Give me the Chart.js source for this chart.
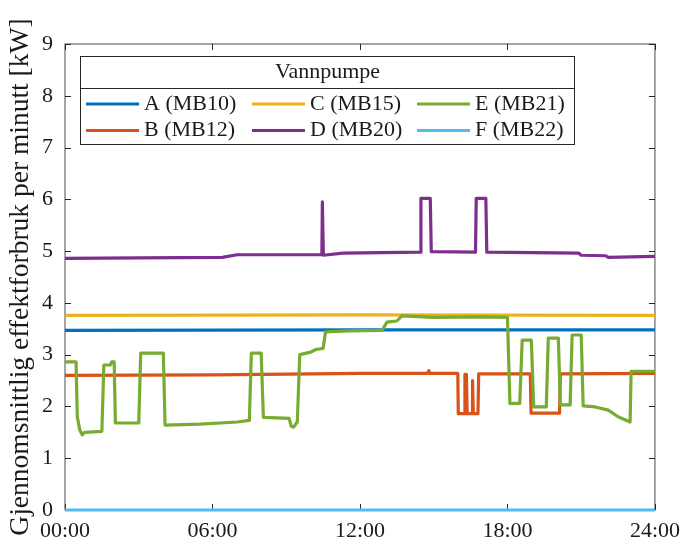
<!DOCTYPE html>
<html>
<head>
<meta charset="utf-8">
<script src="https://cdn.jsdelivr.net/npm/chart.js@4.4.1/dist/chart.umd.min.js"></script>
<style>
html,body{margin:0;padding:0;background:#fff;}
#c{display:block;}
</style>
</head>
<body>
<canvas id="c" width="688" height="544"></canvas>
<script>
// ---------- data (hours of day, kW) ----------
const hourTicks = [0, 6, 12, 18, 24];
const hourTickLabels = ['00:00', '06:00', '12:00', '18:00', '24:00'];
const legendTitle = 'Vannpumpe';
const yTitle = 'Gjennomsnittlig effektforbruk per minutt [kW]';
const seriesLabels = ['A (MB10)', 'B (MB12)', 'C (MB15)', 'D (MB20)', 'E (MB21)', 'F (MB22)'];
const seriesColors = ['#0072BD', '#D95319', '#EDB120', '#7E2F8E', '#77AC30', '#4DBEEE'];

const aTimes  = [0, 12, 24];
const aValues = [3.47, 3.48, 3.48];

const bTimes  = [0, 6, 12, 14.75, 14.8, 14.85, 15.98, 16.0, 16.24, 16.27, 16.33, 16.36, 16.56, 16.58, 16.61, 16.8, 16.83, 18.93, 18.96, 20.12, 20.15, 24];
const bValues = [2.6, 2.61, 2.64, 2.64, 2.69, 2.64, 2.64, 1.86, 1.86, 2.62, 2.62, 1.86, 1.86, 2.5, 1.86, 1.86, 2.63, 2.63, 1.87, 1.87, 2.63, 2.64];

const cTimes  = [0, 12, 24];
const cValues = [3.76, 3.77, 3.76];

const dTimes  = [0, 3, 6.4, 7.0, 10.45, 10.47, 10.49, 10.51, 11.3, 14.45, 14.48, 14.86, 14.9, 16.7, 16.73, 17.12, 17.16, 20.9, 21.0, 22.0, 22.1, 24];
const dValues = [4.86, 4.87, 4.88, 4.93, 4.93, 5.95, 5.95, 4.92, 4.96, 4.98, 6.02, 6.02, 4.99, 4.98, 6.02, 6.02, 4.98, 4.96, 4.92, 4.91, 4.88, 4.9];

const eTimes  = [0, 0.45, 0.5, 0.6, 0.7, 0.8, 1.5, 1.58, 1.85, 1.9, 2.0, 2.05, 3.0, 3.08, 4.0, 4.07, 5.5, 7.0, 7.5, 7.58, 7.98, 8.07, 9.12, 9.2, 9.3, 9.45, 9.55, 10.0, 10.2, 10.5, 10.6, 11.5, 12.9, 13.1, 13.5, 13.7, 15.0, 17.0, 18.0, 18.1, 18.5, 18.6, 18.97, 19.07, 19.58, 19.66, 20.07, 20.15, 20.55, 20.63, 21.0, 21.08, 21.57, 22.1, 22.5, 22.99, 23.03, 24];
const eValues = [2.86, 2.86, 1.8, 1.55, 1.45, 1.5, 1.52, 2.8, 2.8, 2.86, 2.86, 1.68, 1.68, 3.03, 3.03, 1.64, 1.66, 1.7, 1.73, 3.03, 3.03, 1.79, 1.77, 1.62, 1.6, 1.7, 3.0, 3.05, 3.1, 3.12, 3.44, 3.46, 3.47, 3.63, 3.65, 3.75, 3.72, 3.73, 3.72, 2.06, 2.06, 3.28, 3.28, 1.99, 1.99, 3.32, 3.32, 2.03, 2.03, 3.38, 3.38, 2.01, 1.99, 1.93, 1.8, 1.7, 2.68, 2.68];

const fTimes  = [0, 24];
const fValues = [0, 0];

const yTicks = [0, 1, 2, 3, 4, 5, 6, 7, 8, 9];

// ---------- build ----------
function toPoints(times, values) {
  return times.map((t, i) => ({ x: t, y: values[i] }));
}
const allTimes = [aTimes, bTimes, cTimes, dTimes, eTimes, fTimes];
const allValues = [aValues, bValues, cValues, dValues, eValues, fValues];

const datasets = seriesLabels.map((lab, i) => ({
  label: lab,
  data: toPoints(allTimes[i], allValues[i]),
  borderColor: seriesColors[i],
  backgroundColor: seriesColors[i],
  borderWidth: 3.2,
  pointRadius: 0,
  tension: 0,
  fill: false,
  clip: 4,
  borderJoinStyle: 'round',
  order: 6 - i
}));

const FONT = '"Liberation Serif", "Times New Roman", serif';
const TEXT = '#1a1a1a';
const AXIS = '#6a6a6a';

const boxPlugin = {
  id: 'matlabBox',
  beforeDatasetsDraw(chart) {
    const { ctx, chartArea: a, scales } = chart;
    ctx.save();
    ctx.strokeStyle = AXIS;
    ctx.lineWidth = 1.2;
    ctx.strokeRect(a.left, a.top, a.right - a.left, a.bottom - a.top);
    ctx.strokeStyle = '#262626';
    ctx.lineWidth = 1;
    const tl = 6;
    ctx.beginPath();
    scales.x.ticks.forEach(t => {
      const px = Math.round(scales.x.getPixelForValue(t.value)) + 0.5;
      ctx.moveTo(px, a.bottom); ctx.lineTo(px, a.bottom - tl);
      ctx.moveTo(px, a.top); ctx.lineTo(px, a.top + tl);
    });
    scales.y.ticks.forEach(t => {
      const py = Math.round(scales.y.getPixelForValue(t.value)) + 0.5;
      ctx.moveTo(a.left, py); ctx.lineTo(a.left + tl, py);
      ctx.moveTo(a.right, py); ctx.lineTo(a.right - tl, py);
    });
    ctx.stroke();
    ctx.restore();
  }
};

const legendPlugin = {
  id: 'vannLegend',
  afterDraw(chart) {
    const ctx = chart.ctx;
    const x0 = 80.5, y0 = 56.5, x1 = 574.5, y1 = 144.5, sep = 88.5;
    ctx.save();
    ctx.fillStyle = '#fff';
    ctx.fillRect(x0, y0, x1 - x0, y1 - y0);
    ctx.strokeStyle = '#262626';
    ctx.lineWidth = 1;
    ctx.strokeRect(x0, y0, x1 - x0, y1 - y0);
    ctx.beginPath(); ctx.moveTo(x0, sep); ctx.lineTo(x1, sep); ctx.stroke();
    ctx.fillStyle = TEXT;
    ctx.font = '22px ' + FONT;
    ctx.textAlign = 'center';
    ctx.textBaseline = 'middle';
    ctx.fillText(legendTitle, (x0 + x1) / 2, 72);
    const colX = [86, 252, 417];
    const rowY = [104, 130.5];
    ctx.textAlign = 'left';
    chart.data.datasets.forEach((ds, i) => {
      const col = Math.floor(i / 2), row = i % 2;
      const lx = colX[col], ly = rowY[row];
      ctx.strokeStyle = ds.borderColor;
      ctx.lineWidth = 3.2;
      ctx.beginPath(); ctx.moveTo(lx, ly); ctx.lineTo(lx + 53, ly); ctx.stroke();
      ctx.fillStyle = TEXT;
      ctx.fillText(ds.label, lx + 58, ly);
    });
    ctx.restore();
  }
};

new Chart(document.getElementById('c'), {
  type: 'line',
  data: { datasets },
  options: {
    responsive: false,
    animation: false,
    devicePixelRatio: 1,
    layout: { padding: { top: 44, right: 31, left: 0, bottom: 0 } },
    plugins: { legend: { display: false }, tooltip: { enabled: false } },
    scales: {
      x: {
        type: 'linear', min: 0, max: 24,
        afterBuildTicks(s) { s.ticks = hourTicks.map(v => ({ value: v })); },
        afterFit(s) { s.height = 34; },
        grid: { display: false, drawTicks: false },
        border: { display: false },
        ticks: {
          padding: 8, color: TEXT, maxRotation: 0, autoSkip: false,
          font: { family: FONT, size: 22 },
          callback: (v) => hourTickLabels[hourTicks.indexOf(v)]
        }
      },
      y: {
        type: 'linear', min: 0, max: 9,
        afterBuildTicks(s) { s.ticks = yTicks.map(v => ({ value: v })); },
        afterFit(s) { s.width = 65; },
        grid: { display: false, drawTicks: false },
        border: { display: false },
        ticks: { padding: 12, color: TEXT, font: { family: FONT, size: 22 } },
        title: {
          display: true, text: yTitle, color: TEXT,
          font: { family: FONT, size: 27.5 },
          padding: { top: 4, bottom: 0 }
        }
      }
    }
  },
  plugins: [boxPlugin, legendPlugin]
});
</script>
</body>
</html>
